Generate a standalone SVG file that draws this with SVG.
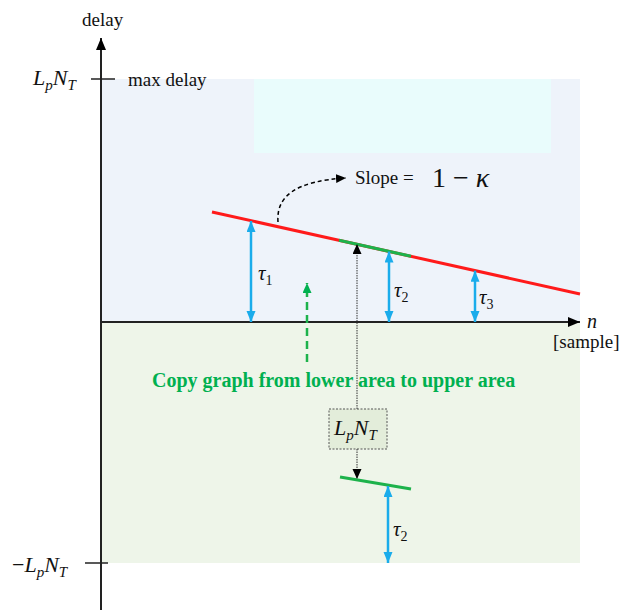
<svg xmlns="http://www.w3.org/2000/svg" width="627" height="610" viewBox="0 0 627 610">
<style>
.t{font-family:"Liberation Serif","Times New Roman",serif;fill:#111}
.i{font-style:italic}
.blue{stroke:#1AACEB;stroke-width:2.5;fill:none;marker-start:url(#mb);marker-end:url(#mb)}
.g{fill:#00B050;font-weight:bold;font-size:20px;font-family:"Liberation Serif","Times New Roman",serif}
</style>
<defs>
<marker id="ma" markerUnits="userSpaceOnUse" markerWidth="14" markerHeight="12" refX="12" refY="5" orient="auto"><path d="M0,0 L12,5 L0,10 Z" fill="#000"/></marker>
<marker id="mb" markerUnits="userSpaceOnUse" markerWidth="12" markerHeight="10" refX="11" refY="4.5" orient="auto-start-reverse"><path d="M0,0 L11,4.5 L0,9 Z" fill="#1AACEB"/></marker>
<marker id="mk" markerUnits="userSpaceOnUse" markerWidth="12" markerHeight="10" refX="10" refY="4.5" orient="auto"><path d="M0,0 L10,4.5 L0,9 Z" fill="#000"/></marker>
<marker id="mg" markerUnits="userSpaceOnUse" markerWidth="12" markerHeight="10" refX="10" refY="4.5" orient="auto"><path d="M0,0 L10,4.5 L0,9 Z" fill="#00B050"/></marker>
</defs>

<g id="upper-area">
<rect x="102" y="79" width="478" height="243" fill="#EEF3FA"/>
<rect x="254" y="79" width="297" height="74" fill="#E9FCFC"/>
</g>
<g id="lower-area">
<rect x="102" y="322" width="478" height="241" fill="#EEF5E9"/>
</g>

<g id="axes">
<line x1="101" y1="610" x2="101" y2="38" stroke="#222" stroke-width="2" marker-end="url(#ma)"/>
<line x1="101" y1="322" x2="580" y2="322" stroke="#222" stroke-width="2" marker-end="url(#ma)"/>
<line x1="91" y1="79" x2="115" y2="79" stroke="#222" stroke-width="1.5"/>
<line x1="85" y1="563" x2="108" y2="563" stroke="#222" stroke-width="1.5"/>
<text class="t" x="82" y="26" font-size="19">delay</text>
<text class="t i" x="33" y="85" font-size="22">L<tspan dy="5" font-size="15">p</tspan><tspan dy="-5">N</tspan><tspan dy="5" font-size="15">T</tspan></text>
<text class="t" x="128" y="86" font-size="19">max delay</text>
<text class="t i" x="12" y="572" font-size="22"><tspan font-style="normal">−</tspan>L<tspan dy="5" font-size="15">p</tspan><tspan dy="-5">N</tspan><tspan dy="5" font-size="15">T</tspan></text>
<text class="t i" x="587" y="328" font-size="20">n</text>
<text class="t" x="553" y="348" font-size="19">[sample]</text>
</g>

<g id="delay-line">
<line x1="212" y1="212" x2="580" y2="294" stroke="#FF1A1A" stroke-width="3"/>
<line x1="339" y1="240.3" x2="411" y2="256.3" stroke="#1DB24B" stroke-width="3"/>
</g>

<g id="slope-label">
<text class="t" x="355" y="184" font-size="19">Slope =</text>
<text class="t" x="432" y="187" font-size="28">1 − <tspan font-style="italic">κ</tspan></text>
</g>

<g id="copied-segment">
<line x1="340" y1="477" x2="411" y2="489" stroke="#1DB24B" stroke-width="3"/>
</g>

<g id="shift-box">
<rect x="329" y="409" width="58" height="40" fill="#E3EDDA" stroke="#555" stroke-width="1" stroke-dasharray="2,1.5"/>
<text class="t i" x="334" y="435" font-size="22">L<tspan dy="5" font-size="15">p</tspan><tspan dy="-5">N</tspan><tspan dy="5" font-size="15">T</tspan></text>
</g>

<g id="copy-label">
<text class="g" x="152" y="387">Copy graph from lower area to upper area</text>
</g>

<g id="tau-labels">
<text class="t i" x="258" y="280" font-size="21">τ<tspan dy="5" font-size="14" font-style="normal">1</tspan></text>
<text class="t i" x="394" y="297" font-size="21">τ<tspan dy="5" font-size="14" font-style="normal">2</tspan></text>
<text class="t i" x="479" y="304" font-size="21">τ<tspan dy="5" font-size="14" font-style="normal">3</tspan></text>
<text class="t i" x="393" y="536" font-size="21">τ<tspan dy="5" font-size="14" font-style="normal">2</tspan></text>
</g>

<g id="connectors">
<line class="blue" x1="251" y1="221" x2="251" y2="322"/>
<line class="blue" x1="389" y1="251.5" x2="389" y2="322"/>
<line class="blue" x1="475" y1="270.7" x2="475" y2="322"/>
<line class="blue" x1="388" y1="486" x2="388" y2="563"/>
<path d="M278,222 C276,196 296,181 346,178" fill="none" stroke="#000" stroke-width="1.5" stroke-dasharray="4,3" marker-end="url(#mk)"/>
<line x1="307" y1="362" x2="307" y2="283" stroke="#1DB24B" stroke-width="2.5" stroke-dasharray="8,5" marker-end="url(#mg)"/>
<line x1="357" y1="409" x2="357" y2="244" stroke="#333" stroke-width="1" stroke-dasharray="1.5,1" marker-end="url(#mk)"/>
<line x1="357" y1="449" x2="357" y2="479" stroke="#333" stroke-width="1" stroke-dasharray="1.5,1" marker-end="url(#mk)"/>
</g>
</svg>
